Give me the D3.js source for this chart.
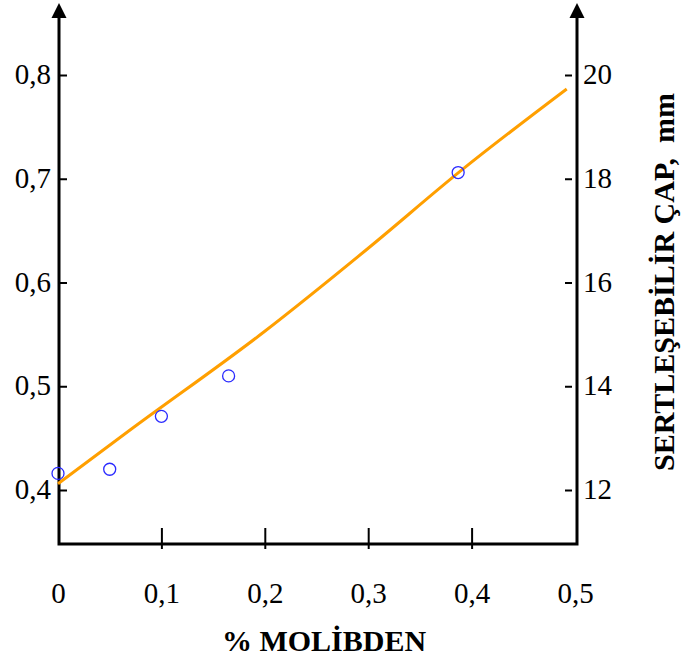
<!DOCTYPE html>
<html>
<head>
<meta charset="utf-8">
<script src="https://cdn.jsdelivr.net/npm/d3@7"></script>
<style>
  html, body { margin: 0; padding: 0; background: #fff; }
  svg { display: block; font-family: "Liberation Serif", "Times New Roman", serif; }
</style>
</head>
<body>
<svg id="chart" width="685" height="661"></svg>
<script>
// Measured points: % molybdenum vs. left-axis value
const pointX = [0, 0.05, 0.1, 0.165, 0.387];
const pointY = [0.416, 0.42, 0.471, 0.51, 0.706];

// Fitted trend curve
const curveX = [0, 0.07, 0.2, 0.3, 0.39, 0.492];
const curveY = [0.406, 0.458, 0.553, 0.633, 0.708, 0.7865];

// Tick values
const xTicks = [0, 0.1, 0.2, 0.3, 0.4, 0.5];
const leftTicks = [0.4, 0.5, 0.6, 0.7, 0.8];
const rightTicks = [12, 14, 16, 18, 20];

const xTitle = "% MOLİBDEN";
const rightTitle = "SERTLEŞEBİLİR ÇAP,  mm";

const svg = d3.select("#chart");

const x = d3.scaleLinear().domain([0, 0.5]).range([58, 575]);
const yL = d3.scaleLinear().domain([0.4, 0.8]).range([490, 75]);
const yR = d3.scaleLinear().domain([12, 20]).range([490, 75]);

const left = 59, right = 577, bottom = 544, topY = 17;
const tickFont = 29, titleFont = 30;
const comma = d => d === 0 ? "0" : d3.format(".1f")(d).replace(".", ",");

// Bottom axis
const gx = svg.append("g").attr("transform", `translate(0,${bottom})`)
  .call(d3.axisBottom(x).tickValues(xTicks).tickSize(5).tickSizeOuter(0).tickPadding(33).tickFormat(comma));
gx.select(".domain").remove();
gx.selectAll(".tick line").attr("y1", -16).attr("stroke", "#000").attr("stroke-width", 2)
  .filter(d => d === 0.5 || d === 0).remove();
gx.selectAll(".tick text").attr("font-size", tickFont).attr("fill", "#000")
  .attr("font-family", "Liberation Serif, serif").attr("dy", "0.71em");

// Left axis
const gl = svg.append("g").attr("transform", `translate(${left},0)`)
  .call(d3.axisLeft(yL).tickValues(leftTicks).tickSize(-8).tickSizeOuter(0).tickPadding(8).tickFormat(comma));
gl.select(".domain").remove();
gl.selectAll(".tick line").attr("stroke", "#000").attr("stroke-width", 2);
gl.selectAll(".tick text").attr("font-size", tickFont).attr("fill", "#000")
  .attr("font-family", "Liberation Serif, serif").attr("dy", "0.3em");

// Right axis
const gr = svg.append("g").attr("transform", `translate(${right},0)`)
  .call(d3.axisRight(yR).tickValues(rightTicks).tickSize(0).tickSizeOuter(0).tickPadding(6));
gr.select(".domain").remove();
gr.selectAll(".tick line").attr("x1", -12).attr("x2", -5).attr("stroke", "#000").attr("stroke-width", 2);
gr.selectAll(".tick text").attr("font-size", tickFont).attr("fill", "#000")
  .attr("font-family", "Liberation Serif, serif").attr("dy", "0.3em");

// Axis frame lines
const frame = svg.append("g").attr("stroke", "#000").attr("stroke-width", 3).attr("fill", "none");
frame.append("path").attr("d", `M${left},${topY}V${bottom}H${right}V${topY}`).attr("stroke-linejoin", "miter");

// Arrowheads on both vertical axes
[left, right].forEach(ax => {
  svg.append("path")
    .attr("d", `M${ax},3L${ax + 7.5},18L${ax - 7.5},18Z`)
    .attr("fill", "#000");
});

// Trend curve
const curveData = curveX.map((v, i) => [v, curveY[i]]);
svg.append("path")
  .datum(curveData)
  .attr("fill", "none")
  .attr("stroke", "#ff9f00")
  .attr("stroke-width", 3)
  .attr("d", d3.line().x(d => x(d[0])).y(d => yL(d[1])).curve(d3.curveMonotoneX));

// Measured points
svg.append("g").selectAll("circle")
  .data(pointX.map((v, i) => [v, pointY[i]]))
  .join("circle")
  .attr("cx", d => x(d[0]))
  .attr("cy", d => yL(d[1]))
  .attr("r", 6)
  .attr("fill", "none")
  .attr("stroke", "#2a2aff")
  .attr("stroke-width", 1.3);

// Axis titles
svg.append("text")
  .attr("x", 324).attr("y", 651)
  .attr("text-anchor", "middle")
  .attr("font-size", titleFont).attr("font-weight", "bold")
  .text(xTitle);

svg.append("text")
  .attr("transform", "translate(674,282) rotate(-90)")
  .attr("text-anchor", "middle")
  .attr("font-size", titleFont).attr("font-weight", "bold")
  .attr("xml:space", "preserve")
  .style("white-space", "pre")
  .text(rightTitle);
</script>
</body>
</html>
